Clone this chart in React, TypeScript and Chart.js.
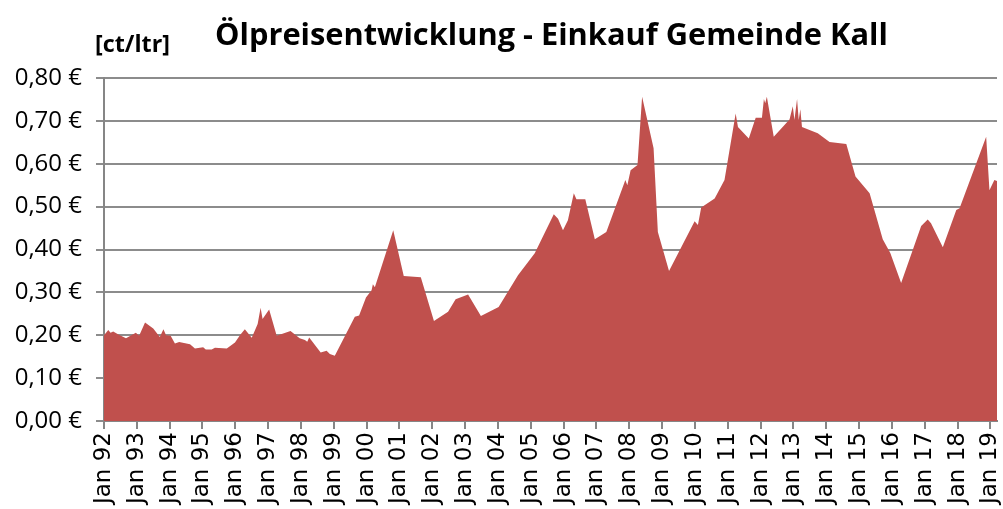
import React, { useEffect, useRef } from 'react';
import { Chart, registerables } from 'chart.js';

Chart.register(...registerables);

const TITLE = 'Ölpreisentwicklung - Einkauf Gemeinde Kall';
const UNIT_LABEL = '[ct/ltr]';

const YEAR_TICKS = [
  'Jan 92', 'Jan 93', 'Jan 94', 'Jan 95', 'Jan 96', 'Jan 97', 'Jan 98', 'Jan 99',
  'Jan 00', 'Jan 01', 'Jan 02', 'Jan 03', 'Jan 04', 'Jan 05', 'Jan 06', 'Jan 07',
  'Jan 08', 'Jan 09', 'Jan 10', 'Jan 11', 'Jan 12', 'Jan 13', 'Jan 14', 'Jan 15',
  'Jan 16', 'Jan 17', 'Jan 18', 'Jan 19',
];

// purchase dates (decimal years)
const DATES = [
  1992.00, 1992.13, 1992.20, 1992.28, 1992.44, 1992.67, 1992.97, 1993.07, 1993.25, 1993.50,
  1993.70, 1993.81, 1993.89, 1994.03, 1994.16, 1994.29, 1994.62, 1994.77, 1995.02, 1995.10,
  1995.28, 1995.38, 1995.74, 1995.99, 1996.14, 1996.29, 1996.50, 1996.68, 1996.77, 1996.83,
  1997.03, 1997.26, 1997.68, 1997.96, 1998.12, 1998.19, 1998.25, 1998.60, 1998.78, 1998.88,
  1999.03, 1999.64, 1999.77, 1999.98, 2000.15, 2000.19, 2000.25, 2000.81, 2001.13, 2001.65,
  2002.05, 2002.48, 2002.71, 2003.09, 2003.48, 2004.02, 2004.61, 2005.12, 2005.70, 2005.83,
  2005.98, 2006.13, 2006.31, 2006.39, 2006.66, 2006.95, 2007.30, 2007.88, 2007.94, 2008.04,
  2008.25, 2008.39, 2008.74, 2008.87, 2009.21, 2009.99, 2010.09, 2010.19, 2010.60, 2010.90,
  2011.24, 2011.31, 2011.64, 2011.85, 2012.04, 2012.10, 2012.14, 2012.19, 2012.40, 2012.88,
  2012.98, 2013.03, 2013.11, 2013.16, 2013.21, 2013.26, 2013.74, 2014.10, 2014.61, 2014.89,
  2015.32, 2015.72, 2015.95, 2016.28, 2016.89, 2017.09, 2017.19, 2017.55, 2017.96, 2018.06,
  2018.87, 2018.97, 2019.12, 2019.20,
];

// price in EUR per litre
const PRICES = [
  0.200, 0.212, 0.206, 0.209, 0.202, 0.193, 0.206, 0.199, 0.230, 0.216,
  0.196, 0.214, 0.200, 0.199, 0.181, 0.184, 0.179, 0.169, 0.172, 0.167,
  0.167, 0.171, 0.169, 0.183, 0.200, 0.214, 0.194, 0.226, 0.264, 0.238,
  0.260, 0.199, 0.210, 0.193, 0.189, 0.185, 0.195, 0.160, 0.164, 0.156,
  0.152, 0.243, 0.246, 0.288, 0.305, 0.319, 0.312, 0.445, 0.338, 0.335,
  0.233, 0.255, 0.284, 0.295, 0.245, 0.266, 0.340, 0.391, 0.482, 0.472,
  0.445, 0.468, 0.531, 0.517, 0.517, 0.424, 0.441, 0.562, 0.550, 0.585,
  0.597, 0.756, 0.636, 0.441, 0.350, 0.466, 0.457, 0.498, 0.519, 0.562,
  0.717, 0.686, 0.659, 0.707, 0.707, 0.751, 0.741, 0.756, 0.663, 0.703,
  0.734, 0.702, 0.751, 0.702, 0.727, 0.686, 0.671, 0.651, 0.646, 0.570,
  0.531, 0.424, 0.392, 0.322, 0.455, 0.470, 0.461, 0.405, 0.492, 0.496,
  0.663, 0.538, 0.562, 0.560,
];

const X_MIN = 1992;
const X_MAX = 2019.2;

function fitText(ctx: CanvasRenderingContext2D, text: string, family: string, x: number, y: number, targetWidth: number) {
  ctx.font = `bold 30px "${family}"`;
  const w = ctx.measureText(text).width;
  const size = (30 * targetWidth) / w;
  ctx.font = `bold ${size}px "${family}"`;
  ctx.fillText(text, x, y);
}

const textPlugin = {
  id: 'headerTexts',
  afterDraw(chart: any) {
    const { ctx, chartArea } = chart;
    ctx.save();
    ctx.fillStyle = '#000';
    ctx.textBaseline = 'alphabetic';
    ctx.textAlign = 'left';
    fitText(ctx, TITLE, 'Open Sans', chartArea.left + 111, 45, 673);
    fitText(ctx, UNIT_LABEL, 'Open Sans', chartArea.left - 9, 52, 75);
    ctx.restore();
  },
};

export default function App() {
  const canvasRef = useRef<HTMLCanvasElement | null>(null);

  useEffect(() => {
    document.documentElement.style.overflow = 'hidden';
    document.body.style.margin = '0';
    const canvas = canvasRef.current;
    if (!canvas) return;
    const points = DATES.map((d, i) => ({ x: d, y: PRICES[i] }));
    const chart = new Chart(canvas, {
      type: 'line',
      data: {
        datasets: [
          {
            data: points,
            fill: 'origin',
            backgroundColor: '#C0504D',
            borderColor: '#C0504D',
            borderWidth: 0,
            pointRadius: 0,
            tension: 0,
          },
        ],
      },
      options: {
        animation: false,
        responsive: false,
        events: [],
        layout: { padding: { top: 78, right: 6, left: 0, bottom: 0 } },
        plugins: {
          legend: { display: false },
          title: { display: false },
          tooltip: { enabled: false },
        },
        scales: {
          x: {
            type: 'linear',
            min: X_MIN,
            max: X_MAX,
            afterBuildTicks: (scale: any) => {
              scale.ticks = YEAR_TICKS.map((_, i) => ({ value: X_MIN + i }));
            },
            afterFit: (scale: any) => {
              scale.height = 88;
              scale.paddingLeft = 0;
              scale.paddingRight = 0;
            },
            ticks: {
              autoSkip: false,
              maxRotation: 90,
              minRotation: 90,
              padding: 3,
              color: '#000',
              font: { family: 'DejaVu Sans', size: 23 },
              callback: (v: any) => YEAR_TICKS[Math.round(Number(v) - X_MIN)] ?? '',
            },
            grid: {
              drawOnChartArea: false,
              drawTicks: true,
              tickLength: 8,
              color: '#868686',
              lineWidth: 2,
            },
            border: { color: '#868686', width: 2 },
          },
          y: {
            min: 0,
            max: 0.8,
            afterFit: (scale: any) => {
              scale.width = 104;
              scale.paddingTop = 0;
              scale.paddingBottom = 0;
            },
            ticks: {
              stepSize: 0.1,
              padding: 14,
              color: '#000',
              font: { family: 'Open Sans', size: 24 },
              callback: (v: any) => Number(v).toFixed(2).replace('.', ',') + ' €',
            },
            grid: {
              color: '#8c8c8c',
              lineWidth: 2,
              tickLength: 8,
            },
            border: { color: '#868686', width: 2 },
          },
        },
      },
      plugins: [textPlugin],
    });
    return () => chart.destroy();
  }, []);

  return (
    <div style={{ position: 'fixed', left: 0, top: 0, width: 1003, height: 509, background: '#fff' }}>
      <canvas ref={canvasRef} width={1003} height={509} style={{ display: 'block' }} />
    </div>
  );
}
